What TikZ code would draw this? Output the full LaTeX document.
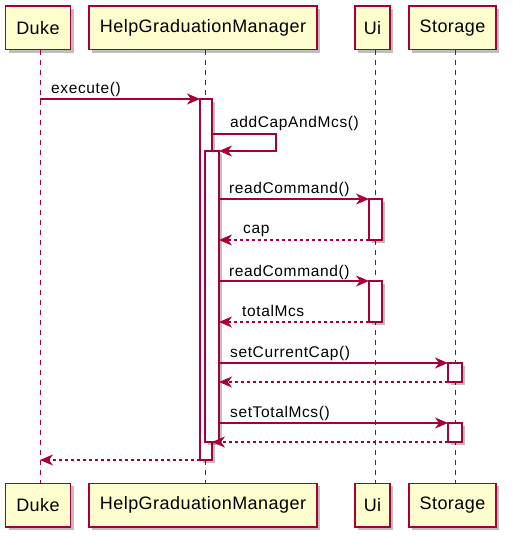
\documentclass[tikz,border=0pt]{standalone}
\usepackage{fontspec}
\setmainfont{Liberation Sans}
\newfontfamily\partfont{Liberation Sans}[LetterSpace=2.5]
\newfontfamily\msgfont{Liberation Sans}[LetterSpace=4]
\usetikzlibrary{arrows.meta,shadows,calc}
\definecolor{pred}{HTML}{A80036}
\definecolor{pfill}{HTML}{FEFECE}
\tikzset{
  pshadow/.style={drop shadow={shadow xshift=3pt, shadow yshift=-3pt, fill=black, opacity=0.25}},
  part/.style={draw=pred, fill=pfill, line width=1.5pt, minimum height=43.5pt, inner sep=0pt, outer sep=0pt,
    font=\partfont\fontsize{18}{20}\selectfont, pshadow},
  actbox/.style={draw=pred, fill=white, line width=1.2pt, inner sep=0pt, outer sep=0pt, anchor=north west, pshadow},
  life/.style={draw=pred, line width=1pt, dash pattern=on 5pt off 5pt},
  msg/.style={draw=pred, line width=1.2pt, -{Stealth[length=13pt,width=11pt,inset=4pt]}},
  ret/.style={msg, dash pattern=on 3pt off 3pt},
  lbl/.style={anchor=base west, inner sep=0pt, font=\msgfont\fontsize{15.5}{17}\selectfont}
}
\begin{document}
\begin{tikzpicture}[x=1pt,y=-1pt]
\useasboundingbox (0,0) rectangle (513,544);
% participants
\node[part, minimum width=65pt] (dukeT) at (38,27.75) {Duke};
\node[part, minimum width=228pt] (hgmT) at (203,27.75) {HelpGraduationManager};
\node[part, minimum width=35pt] (uiT) at (372.5,27.75) {Ui};
\node[part, minimum width=87pt] (stT) at (452.5,27.75) {Storage};
\node[part, minimum width=65pt] (dukeB) at (38,505) {Duke};
\node[part, minimum width=228pt] (hgmB) at (203,505) {HelpGraduationManager};
\node[part, minimum width=35pt] (uiB) at (372.5,505) {Ui};
\node[part, minimum width=87pt] (stB) at (452.5,505) {Storage};
% lifeline x positions
\coordinate (dl) at (40,0);
\coordinate (hl) at (205,0);
\coordinate (ul) at (375,0);
\coordinate (sl) at (455,0);
\draw[life] (dukeT.south -| dl) -- (dukeB.north -| dl);
\draw[life] (hgmT.south -| hl) -- (hgmB.north -| hl);
\draw[life] (uiT.south -| ul) -- (uiB.north -| ul);
\draw[life] (stT.south -| sl) -- (stB.north -| sl);
% activations
\node[actbox, minimum width=12pt, minimum height=361pt] (a1) at (200,99) {};
\node[actbox, minimum width=14pt, minimum height=291pt] (a2) at (205,151) {};
\node[actbox, minimum width=13pt, minimum height=41pt] (u1) at (369,199) {};
\node[actbox, minimum width=13pt, minimum height=41pt] (u2) at (369,281) {};
\node[actbox, minimum width=14pt, minimum height=19pt] (s1) at (448,363) {};
\node[actbox, minimum width=14pt, minimum height=19pt] (s2) at (448,423) {};
% messages
\draw[msg] (a1.north west -| dl) -- (a1.north west);
\coordinate (selfc) at (276,134);
\draw[msg] (a1.east |- selfc) -- (selfc) -- (selfc |- a2.north) -- (a2.north east);
\draw[msg] (a2.east |- u1.north) -- (u1.north west);
\draw[ret] (u1.south west) -- (a2.east |- u1.south);
\draw[msg] (a2.east |- u2.north) -- (u2.north west);
\draw[ret] (u2.south west) -- (a2.east |- u2.south);
\draw[msg] (a2.east |- s1.north) -- (s1.north west);
\draw[ret] (s1.south west) -- (a2.east |- s1.south);
\draw[msg] (a2.east |- s2.north) -- (s2.north west);
\draw[ret] (s2.south west) -- (a1.east |- s2.south);
\draw[ret] (a1.south west) -- (a1.south west -| dl);
% labels
\node[lbl] (l1) at (51,93) {execute()};
\node[lbl] (l2) at (230,127) {addCapAndMcs()};
\node[lbl] (l3) at (229,193.3) {readCommand()};
\node[lbl] (l4) at (243,233.3) {cap};
\node[lbl] (l5) at (229,276) {readCommand()};
\node[lbl] (l6) at (242,316) {totalMcs};
\node[lbl] (l7) at (230,357.3) {setCurrentCap()};
\node[lbl] (l8) at (230,417) {setTotalMcs()};
\end{tikzpicture}
\end{document}
